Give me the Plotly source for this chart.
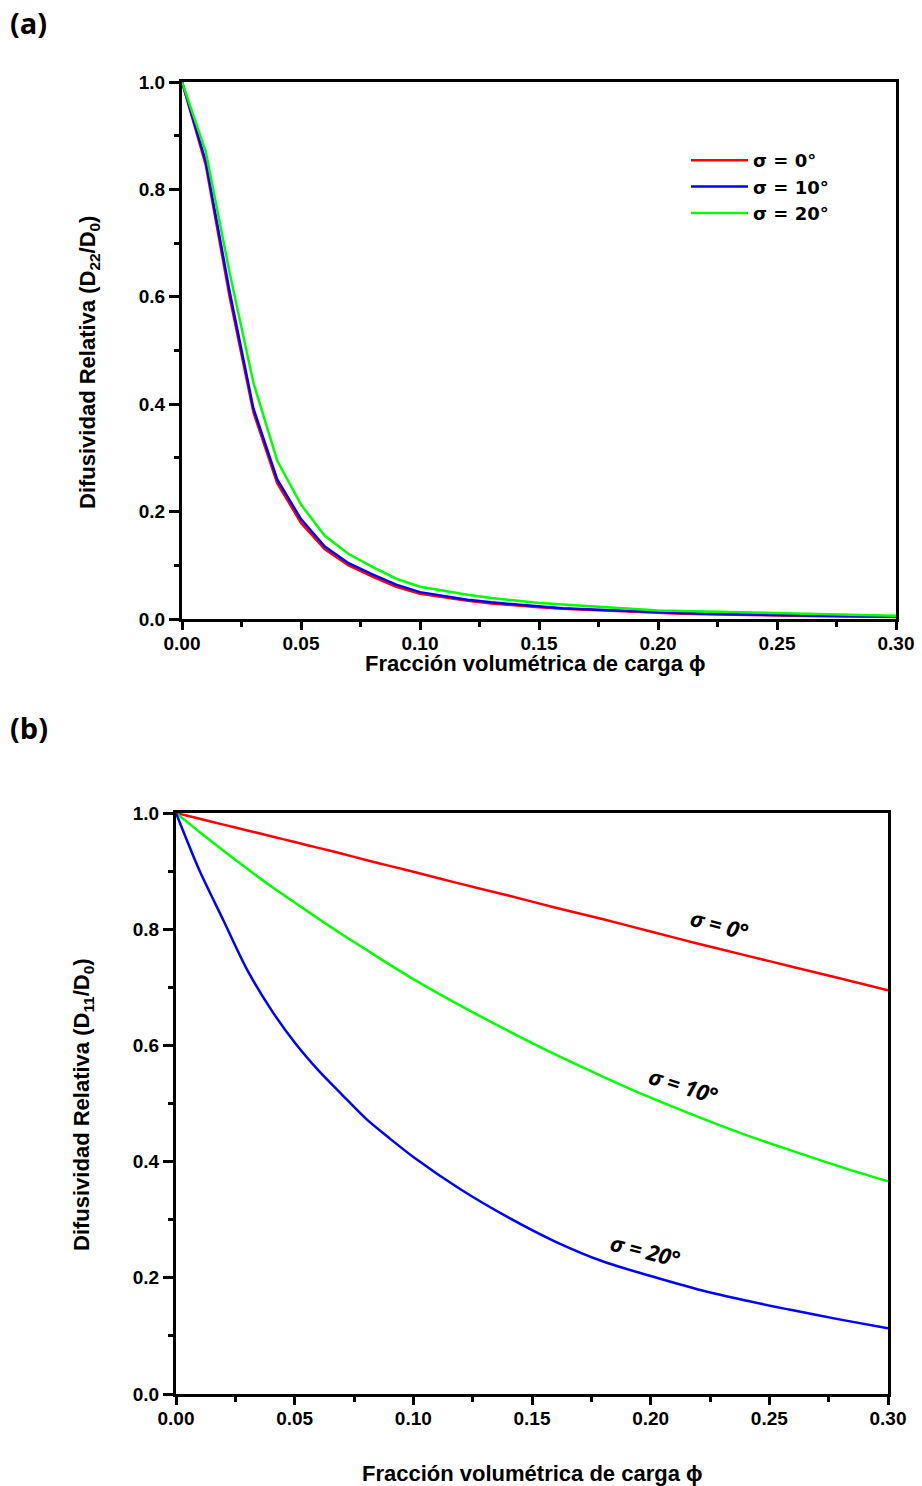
import plotly.graph_objects as go

# ---------------- data: panel (a) D22/D0 ----------------
phi_a = [0.00, 0.01, 0.02, 0.03, 0.04, 0.05, 0.06, 0.07, 0.08, 0.09, 0.10,
         0.11, 0.12, 0.13, 0.14, 0.15, 0.16, 0.17, 0.18, 0.19, 0.20,
         0.21, 0.22, 0.23, 0.24, 0.25, 0.26, 0.27, 0.28, 0.29, 0.30]
d22_s0 = [1.0, 0.845, 0.600, 0.385, 0.253, 0.179, 0.130, 0.100, 0.079, 0.060, 0.047,
          0.040, 0.034, 0.029, 0.025, 0.022, 0.019, 0.017, 0.015, 0.013, 0.011,
          0.010, 0.009, 0.008, 0.007, 0.006, 0.0055, 0.005, 0.0045, 0.004, 0.0035]
d22_s10 = [1.0, 0.852, 0.610, 0.392, 0.260, 0.186, 0.135, 0.104, 0.083, 0.064, 0.050,
           0.043, 0.036, 0.031, 0.027, 0.023, 0.020, 0.018, 0.016, 0.014, 0.012,
           0.011, 0.010, 0.009, 0.008, 0.007, 0.0065, 0.006, 0.0055, 0.005, 0.0045]
d22_s20 = [1.0, 0.870, 0.645, 0.440, 0.295, 0.213, 0.155, 0.121, 0.097, 0.075, 0.060,
           0.052, 0.045, 0.039, 0.034, 0.030, 0.027, 0.024, 0.021, 0.018, 0.016,
           0.015, 0.014, 0.013, 0.011, 0.010, 0.009, 0.008, 0.007, 0.0065, 0.006]

# ---------------- data: panel (b) D11/D0 ----------------
phi_b = [0.00, 0.01, 0.02, 0.03, 0.04, 0.05, 0.06, 0.07, 0.08, 0.09, 0.10,
         0.12, 0.14, 0.16, 0.18, 0.20, 0.22, 0.24, 0.26, 0.28, 0.30]
d11_s0 = [1.0, 0.990, 0.980, 0.970, 0.960, 0.950, 0.940, 0.930, 0.919, 0.909, 0.899,
          0.878, 0.858, 0.837, 0.817, 0.796, 0.775, 0.755, 0.735, 0.715, 0.695]
d11_s10 = [1.0, 0.967, 0.935, 0.904, 0.874, 0.846, 0.818, 0.791, 0.765, 0.739, 0.714,
           0.668, 0.625, 0.584, 0.546, 0.510, 0.477, 0.446, 0.418, 0.391, 0.366]
d11_s20 = [1.0, 0.900, 0.815, 0.730, 0.662, 0.605, 0.557, 0.515, 0.474, 0.440, 0.408,
           0.352, 0.304, 0.262, 0.228, 0.203, 0.180, 0.161, 0.144, 0.128, 0.113]

series_names = ["σ = 0°", "σ = 10°", "σ = 20°"]
colors_a = ["#FF0000", "#0000FF", "#00FF00"]   # panel (a): 0° red, 10° blue, 20° green
colors_b = ["#FF0000", "#00FF00", "#0000FF"]   # panel (b): 0° red, 10° green, 20° blue

W, H = 922, 1486
FONT = "Liberation Sans, Arial, sans-serif"
LBLFONT = "Open Sans, sans-serif"

fig = go.Figure()

for name, ys, col in zip(series_names, [d22_s0, d22_s10, d22_s20], colors_a):
    fig.add_trace(go.Scatter(x=phi_a, y=ys, mode="lines", name=name,
                             line=dict(color=col, width=2.5),
                             xaxis="x", yaxis="y", showlegend=True))

for name, ys, col in zip(series_names, [d11_s0, d11_s10, d11_s20], colors_b):
    fig.add_trace(go.Scatter(x=phi_b, y=ys, mode="lines", name=name,
                             line=dict(color=col, width=2.5, shape="spline", smoothing=0.8),
                             xaxis="x2", yaxis="y2", showlegend=False))


def px_x(p):
    return p / W


def px_y(p):
    return 1 - p / H


def xaxis_style(domain, anchor):
    return dict(domain=domain, anchor=anchor, range=[0, 0.30], dtick=0.05,
                tickformat=".2f", showgrid=False, zeroline=False, automargin=False,
                ticklabeloverflow="allow", ticklabelstandoff=-3,
                showline=True, linecolor="black", linewidth=3, mirror=True,
                ticks="outside", ticklen=8, tickwidth=3, tickcolor="black",
                minor=dict(dtick=0.025, ticks="outside", ticklen=5, tickwidth=3,
                           tickcolor="black", showgrid=False),
                tickfont=dict(family=FONT, size=19, color="black", weight="bold"))


def yaxis_style(domain, anchor):
    return dict(domain=domain, anchor=anchor, range=[0, 1.0], dtick=0.2,
                tickformat=".1f", showgrid=False, zeroline=False, automargin=False,
                ticklabeloverflow="allow",
                showline=True, linecolor="black", linewidth=3, mirror=True,
                ticks="outside", ticklen=10, tickwidth=3, tickcolor="black",
                minor=dict(dtick=0.1, ticks="outside", ticklen=5, tickwidth=3,
                           tickcolor="black", showgrid=False),
                tickfont=dict(family=FONT, size=19, color="black", weight="bold"))


fig.update_layout(
    template="none",
    width=W, height=H,
    margin=dict(l=0, r=0, t=0, b=0, pad=0, autoexpand=False),
    paper_bgcolor="white", plot_bgcolor="white",
    xaxis=xaxis_style([px_x(182), px_x(896)], "y"),
    yaxis=yaxis_style([px_y(619), px_y(82)], "x"),
    xaxis2=xaxis_style([px_x(176), px_x(888)], "y2"),
    yaxis2=yaxis_style([px_y(1394), px_y(813)], "x2"),
    legend=dict(x=px_x(686), y=px_y(142), xanchor="left", yanchor="top",
                bgcolor="rgba(0,0,0,0)", tracegroupgap=0, itemwidth=57,
                font=dict(family="DejaVu Sans, sans-serif", size=18, color="black",
                          weight="bold")),
    showlegend=True,
)

annotations = [
    dict(text="<b>(a)</b>", x=px_x(8), y=px_y(22), xanchor="left", yanchor="middle",
         font=dict(family=LBLFONT, size=29, color="black")),
    dict(text="<b>(b)</b>", x=px_x(8), y=px_y(727), xanchor="left", yanchor="middle",
         font=dict(family=LBLFONT, size=29, color="black")),
    dict(text="<b>Difusividad Relativa (D<sub>22</sub>/D<sub>0</sub>)</b>", x=px_x(89), y=px_y(363),
         textangle=-90, xanchor="center", yanchor="middle",
         font=dict(family=FONT, size=22, color="black")),
    dict(text="<b>Difusividad Relativa (D<sub>11</sub>/D<sub>0</sub>)</b>", x=px_x(83), y=px_y(1105),
         textangle=-90, xanchor="center", yanchor="middle",
         font=dict(family=FONT, size=22, color="black")),
    dict(text="<b>Fracción volumétrica de carga ϕ</b>", x=px_x(535), y=px_y(664),
         xanchor="center", yanchor="middle",
         font=dict(family=FONT, size=22, color="black")),
    dict(text="<b>Fracción volumétrica de carga ϕ</b>", x=px_x(532), y=px_y(1473),
         xanchor="center", yanchor="middle",
         font=dict(family=FONT, size=22, color="black")),
    dict(text="<b><i>σ = 0°</i></b>", x=px_x(719), y=px_y(924), textangle=15,
         xanchor="center", yanchor="middle",
         font=dict(family=LBLFONT, size=22, color="black")),
    dict(text="<b><i>σ = 10°</i></b>", x=px_x(683), y=px_y(1085), textangle=17,
         xanchor="center", yanchor="middle",
         font=dict(family=LBLFONT, size=22, color="black")),
    dict(text="<b><i>σ = 20°</i></b>", x=px_x(645), y=px_y(1250), textangle=14,
         xanchor="center", yanchor="middle",
         font=dict(family=LBLFONT, size=22, color="black")),
]
for a in annotations:
    a.update(xref="paper", yref="paper", showarrow=False)
fig.update_layout(annotations=annotations)

# the page body normally has an 8px margin; remove it so the 922x1486 figure fills the window
fig.write_html("out.html",
               config={"displayModeBar": False},
               post_script="document.body.style.margin='0';document.body.style.overflow='hidden';")
